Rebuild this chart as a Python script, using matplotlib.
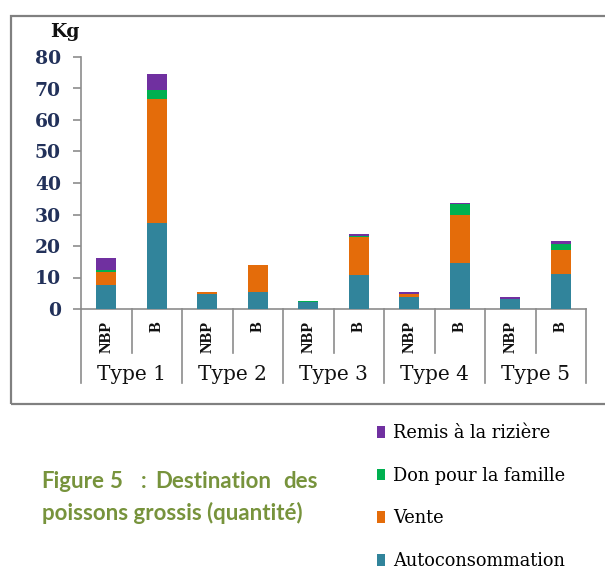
import matplotlib
matplotlib.use("Agg")
import matplotlib.pyplot as plt
import matplotlib.transforms as mtransforms
from matplotlib.patches import Rectangle

# ---------------- data ----------------
bar_labels = ["NBP", "B", "NBP", "B", "NBP", "B", "NBP", "B", "NBP", "B"]
groups = ["Type 1", "Type 2", "Type 3", "Type 4", "Type 5"]
autoconsommation = [7.7, 27.4, 4.9, 5.4, 2.1, 10.7, 3.8, 14.7, 3.3, 11.2]
vente = [4.0, 39.2, 0.5, 8.7, 0.0, 12.0, 1.1, 15.0, 0.0, 7.6]
don_famille = [0.6, 2.9, 0.0, 0.0, 0.5, 0.6, 0.0, 3.5, 0.0, 1.7]
remis_riziere = [4.0, 5.0, 0.0, 0.0, 0.0, 0.6, 0.5, 0.6, 0.5, 1.2]
series_names = ["Autoconsommation", "Vente", "Don pour la famille", "Remis à la rizière"]
series_colors = ["#31849B", "#E46C0A", "#00B050", "#7030A0"]
yticks = [0, 10, 20, 30, 40, 50, 60, 70, 80]

W, H = 605, 570
fig = plt.figure(figsize=(W / 100, H / 100), dpi=100)
fig.patch.set_facecolor("white")

# frame around chart area
fig.patches.append(Rectangle((11 / W, 1 - 404 / H), 1.2, (404 - 16) / H,
                             transform=fig.transFigure, fill=False,
                             edgecolor="#808080", linewidth=1.6, zorder=0))

ax = fig.add_axes([81 / W, 1 - 309 / H, 505 / W, 252 / H])
x = list(range(len(bar_labels)))
bottom = [0.0] * len(x)
handles = []
for name, vals, col in zip(series_names,
                           [autoconsommation, vente, don_famille, remis_riziere],
                           series_colors):
    b = ax.bar(x, vals, width=0.40, bottom=bottom, color=col, label=name,
               linewidth=0, zorder=3)
    handles.append(b)
    bottom = [bo + v for bo, v in zip(bottom, vals)]

ax.set_xlim(-0.5, len(x) - 0.5)
ax.set_ylim(0, 80)
ax.set_yticks(yticks)
ax.set_xticks([])
for s in ["top", "right"]:
    ax.spines[s].set_visible(False)
for s in ["left", "bottom"]:
    ax.spines[s].set_color("#8c8c8c")
    ax.spines[s].set_linewidth(1.2)
ax.tick_params(axis="y", direction="out", length=6, width=1.2, color="#8c8c8c",
               pad=8.5, labelsize=13.5, labelcolor="#22315a")
for t in ax.get_yticklabels():
    t.set_fontfamily("DejaVu Serif")
    t.set_fontweight("bold")

# multi-level category axis
trans = mtransforms.blended_transform_factory(ax.transData, ax.transAxes)
inner_depth = -(353 - 309) / 252
outer_depth = -(383 - 309) / 252
ngroups = len(groups)
per = len(x) // ngroups
for g in range(ngroups + 1):
    xs = g * per - 0.5
    ax.plot([xs, xs], [0, outer_depth], transform=trans, color="#8c8c8c",
            lw=1.2, clip_on=False)
for g in range(ngroups):
    for k in range(1, per):
        xs = g * per + k - 0.5
        ax.plot([xs, xs], [0, inner_depth], transform=trans, color="#8c8c8c",
                lw=1.2, clip_on=False)
for i, lab in enumerate(bar_labels):
    ax.text(i, -(321 - 309) / 252, lab, transform=trans, rotation=90,
            ha="center", va="top", fontsize=11.5, fontfamily="Liberation Serif",
            fontweight="bold", color="#111111")
for g, gl in enumerate(groups):
    ax.text(g * per + (per - 1) / 2, -(374 - 309) / 252, gl, transform=trans,
            ha="center", va="center", fontsize=14.5, fontfamily="DejaVu Serif",
            color="#111111")

# y unit label
fig.text(65 / W, 1 - 32 / H, "Kg", ha="center", va="center", fontsize=13.5,
         fontfamily="DejaVu Serif", fontweight="bold", color="#111111")

# legend (reverse order)
leg = fig.legend(handles[::-1], series_names[::-1], loc="upper left",
                 bbox_to_anchor=(377 / W, 1 - 424 / H), frameon=False,
                 prop={"family": "DejaVu Serif", "size": 12.8},
                 handlelength=0.45, handleheight=0.62, handletextpad=0.45,
                 labelspacing=1.39, borderpad=0, borderaxespad=0)

# caption
cap_col = "#77933C"
cap_kw = dict(fontsize=16, fontfamily="Lato", fontweight="bold", color=cap_col,
              va="center")
y1 = 1 - 482 / H
fig.text(41.5 / W, y1, "Figure", ha="left", **cap_kw)
fig.text(109 / W, y1, "5", ha="left", **cap_kw)
fig.text(141 / W, y1, ":", ha="left", **cap_kw)
fig.text(155 / W, y1, "Destination", ha="left", **cap_kw)
fig.text(318 / W, y1, "des", ha="right", **cap_kw)
fig.text(41.5 / W, 1 - 513 / H, "poissons grossis (quantité)", ha="left", **cap_kw)

fig.savefig("out.png", dpi=100)
